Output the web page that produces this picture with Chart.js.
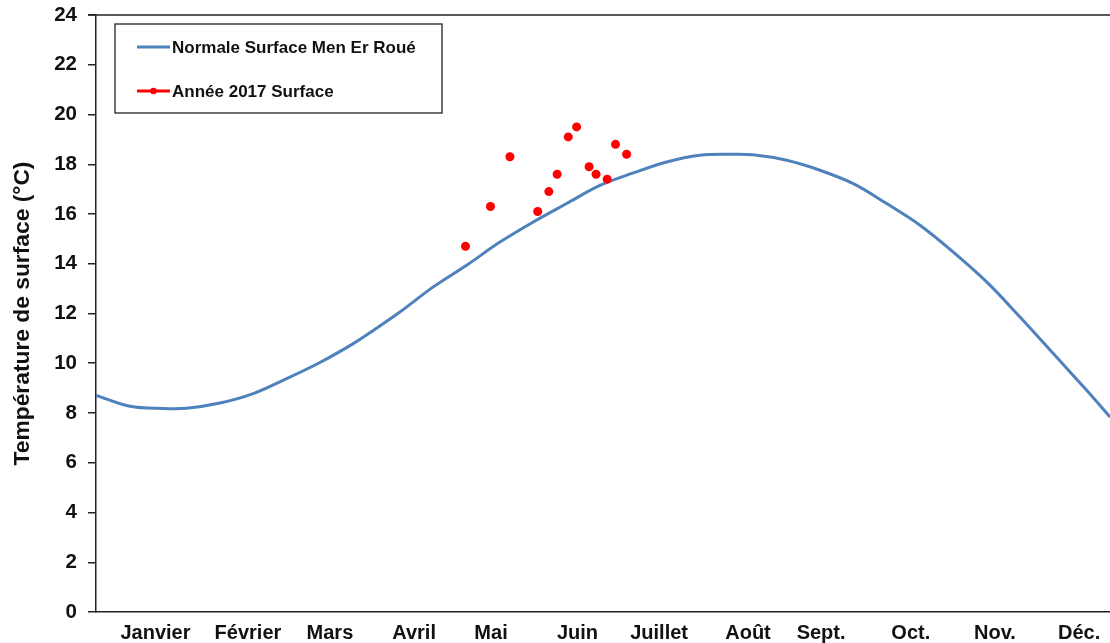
<!DOCTYPE html>
<html><head><meta charset="utf-8">
<script src="https://cdn.jsdelivr.net/npm/chart.js@4.4.1/dist/chart.umd.min.js"></script>
<style>html,body{margin:0;padding:0;background:#fff;overflow:hidden;}</style>
</head><body>
<canvas id="c" width="1110" height="643" style="display:block;width:1110px;height:643px"></canvas>
<script>
// Month labels and their positions (day of year)
const monthLabels = ['Janvier','Février','Mars','Avril','Mai','Juin','Juillet','Août','Sept.','Oct.','Nov.','Déc.'];
const monthLabelDays = [21.4, 54.7, 84.2, 114.5, 142.2, 173.3, 202.7, 234.7, 261, 293.3, 323.6, 353.9];
const yTickValues = [0,2,4,6,8,10,12,14,16,18,20,22,24];

// Normal surface temperature (Men Er Roué)
const normalDays  = [0, 12.2, 24.2, 32.6, 44.6, 56.6, 68.6, 80.6, 92.6, 99.8, 109.4, 121.4, 133.4, 145.4, 157.4, 169.4, 181.4, 193.4, 205.4, 217.4, 228.2, 236.5, 248.6, 260.6, 272.6, 284.6, 296.6, 308.6, 320.6, 332.6, 344.6, 356.6, 365];
const normalTemps = [8.71, 8.27, 8.18, 8.19, 8.40, 8.78, 9.38, 10.03, 10.79, 11.32, 12.06, 13.07, 13.94, 14.87, 15.68, 16.42, 17.15, 17.65, 18.09, 18.36, 18.40, 18.38, 18.16, 17.76, 17.22, 16.42, 15.55, 14.47, 13.27, 11.86, 10.39, 8.91, 7.84];

// 2017 surface observations
const obsDays  = [133, 142, 149, 159, 163, 166, 170, 173, 177.5, 180, 184, 187, 191];
const obsTemps = [14.7, 16.3, 18.3, 16.1, 16.9, 17.6, 19.1, 19.5, 17.9, 17.6, 17.4, 18.8, 18.4];

const FONT = "'Liberation Sans', Arial, sans-serif";

const framePlugin = {
  id: 'frame',
  afterDraw(chart) {
    const ctx = chart.ctx, a = chart.chartArea;
    ctx.save();
    // top border of plot frame
    ctx.strokeStyle = '#222';
    ctx.lineWidth = 1.5;
    ctx.beginPath();
    ctx.moveTo(a.left - 8, a.top);
    ctx.lineTo(a.right, a.top);
    ctx.stroke();
    // legend box
    const bx = a.left + 19, by = a.top + 9, bw = 327, bh = 89;
    ctx.fillStyle = '#fff';
    ctx.fillRect(bx, by, bw, bh);
    ctx.strokeStyle = '#222';
    ctx.lineWidth = 1.3;
    ctx.strokeRect(bx, by, bw, bh);
    ctx.font = 'bold 17px ' + FONT;
    ctx.textBaseline = 'middle';
    ctx.textAlign = 'left';
    chart.data.datasets.forEach((ds, i) => {
      const y = by + 23 + i * 44;
      ctx.strokeStyle = ds.borderColor;
      ctx.lineWidth = 3;
      ctx.beginPath();
      ctx.moveTo(bx + 22, y);
      ctx.lineTo(bx + 55, y);
      ctx.stroke();
      if (ds.legendDot) {
        ctx.fillStyle = ds.backgroundColor;
        ctx.beginPath();
        ctx.arc(bx + 38.5, y, 3.3, 0, Math.PI * 2);
        ctx.fill();
      }
      ctx.fillStyle = '#111';
      ctx.fillText(ds.label, bx + 57, y + 1);
    });
    ctx.restore();
  }
};

new Chart(document.getElementById('c'), {
  type: 'scatter',
  data: {
    datasets: [
      {
        label: 'Normale Surface Men Er Roué',
        data: normalDays.map((d, i) => ({x: d, y: normalTemps[i]})),
        showLine: true,
        borderColor: '#4F81BD',
        backgroundColor: '#4F81BD',
        borderWidth: 3,
        pointRadius: 0,
        pointHoverRadius: 0,
        tension: 0.35,
        order: 1
      },
      {
        label: 'Année 2017 Surface',
        data: obsDays.map((d, i) => ({x: d, y: obsTemps[i]})),
        showLine: false,
        borderColor: '#FF0000',
        backgroundColor: '#FF0000',
        pointBorderWidth: 0,
        pointRadius: 4.5,
        legendDot: true,
        order: 0
      }
    ]
  },
  options: {
    responsive: false,
    animation: false,
    devicePixelRatio: 1,
    layout: { autoPadding: false, padding: { top: 15, right: 0, left: 0, bottom: 0 } },
    plugins: { legend: { display: false }, tooltip: { enabled: false } },
    scales: {
      x: {
        type: 'linear',
        min: 0, max: 365,
        afterBuildTicks: s => { s.ticks = monthLabelDays.map(v => ({value: v})); },
        afterFit: s => { s.height = 31; s.paddingLeft = 0; s.paddingRight = 0; },
        grid: { display: false, drawTicks: false },
        border: { display: true, color: '#222', width: 1.5 },
        ticks: {
          autoSkip: false, maxRotation: 0, minRotation: 0,
          padding: 9,
          color: '#111',
          font: { family: FONT, size: 20, weight: 'bold' },
          callback: (v, i) => monthLabels[i]
        }
      },
      y: {
        min: 0, max: 24,
        afterBuildTicks: s => { s.ticks = yTickValues.map(v => ({value: v})); },
        afterFit: s => { s.width = 96; s.paddingTop = 0; s.paddingBottom = 0; },
        grid: { drawOnChartArea: false, drawTicks: true, tickLength: 8, color: '#222', lineWidth: 1.5 },
        border: { display: true, color: '#222', width: 1.5 },
        ticks: {
          padding: 11,
          color: '#111',
          font: { family: FONT, size: 20.5, weight: 'bold' }
        },
        title: {
          display: true,
          text: 'Température de surface (°C)',
          color: '#111',
          font: { family: FONT, size: 22.8, weight: 'bold' },
          padding: { top: 9, bottom: 0 }
        }
      }
    }
  },
  plugins: [framePlugin]
});
</script>
</body></html>
